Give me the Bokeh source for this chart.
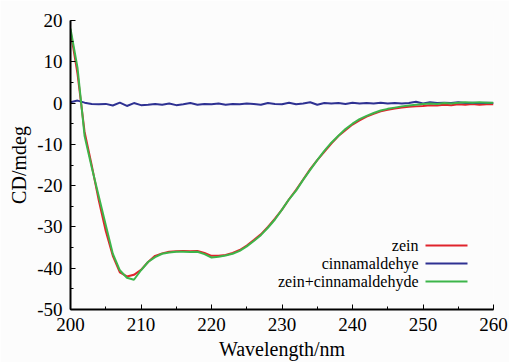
from bokeh.plotting import figure
from bokeh.models import Range1d, Label, BoxAnnotation, SingleIntervalTicker, PrintfTickFormatter
from bokeh.embed import file_html
from bokeh.resources import INLINE

wavelength = list(range(200, 261))

zein = [17.5, 7.0, -7.0, -15.0, -23.5, -31.0, -37.0, -41.0, -42.0, -41.6,
        -40.4, -38.5, -37.0, -36.4, -36.0, -35.9, -35.8, -35.9, -35.8, -36.3,
        -37.0, -37.0, -36.8, -36.3, -35.6, -34.5, -33.2, -31.8, -30.0, -28.0,
        -25.8, -23.3, -21.0, -18.5, -16.0, -13.8, -11.8, -9.8, -8.0, -6.6,
        -5.2, -4.2, -3.3, -2.6, -2.0, -1.6, -1.3, -1.1, -0.9, -0.8,
        -0.7, -0.5, -0.6, -0.4, -0.5, -0.3, -0.4, -0.2, -0.4, -0.3, -0.3]

cinnamaldehye = [0.2, 0.6, 0.1, -0.2, -0.3, -0.2, -0.6, 0.1, -0.7, 0.0,
                 -0.5, -0.4, -0.2, -0.4, -0.1, -0.5, -0.3, 0.0, -0.4, -0.2,
                 -0.3, -0.1, -0.4, -0.2, -0.3, -0.1, -0.2, -0.4, 0.0, -0.2,
                 -0.3, 0.1, -0.3, -0.1, 0.2, -0.4, 0.0, -0.1, 0.0, -0.2,
                 0.1, -0.1, 0.0, -0.1, 0.1, -0.1, 0.0, -0.1, 0.0, 0.3,
                 -0.1, 0.2, 0.0, 0.1, 0.0, 0.2, 0.0, 0.1, 0.0, 0.1, 0.0]

zein_cinnamaldehyde = [18.0, 8.5, -8.0, -15.5, -22.5, -29.5, -36.5, -40.5, -42.3, -42.8,
                       -40.5, -38.5, -37.3, -36.5, -36.2, -36.0, -36.0, -36.1, -36.0, -36.6,
                       -37.4, -37.2, -36.9, -36.5, -35.8, -34.7, -33.4, -32.0, -30.2, -28.2,
                       -25.8, -23.3, -21.2, -18.6, -16.2, -13.8, -11.6, -9.6, -7.9, -6.3,
                       -5.0, -3.9, -3.1, -2.4, -1.8, -1.4, -1.1, -0.8, -0.6, -0.4,
                       -0.2, -0.1, -0.2, 0.0, -0.1, 0.1, 0.2, 0.1, 0.2, 0.1, 0.1]

series_names = ["zein", "cinnamaldehye", "zein+cinnamaldehyde"]
series_colors = ["#e0242c", "#2e3192", "#3db54a"]
series_values = [zein, cinnamaldehye, zein_cinnamaldehyde]

FONT = "Liberation Serif"

p = figure(width=509, height=362, output_backend="svg", toolbar_location=None,
           x_range=Range1d(200, 260), y_range=Range1d(-50, 20),
           min_border_left=70, min_border_right=16, min_border_top=20,
           min_border_bottom=50)
p.background_fill_color = "#fcfcfc"
p.border_fill_color = "#fcfcfc"
p.outline_line_color = None
p.xgrid.visible = False
p.ygrid.visible = False

for vals, col in zip(series_values, series_colors):
    p.line(wavelength, vals, line_color=col, line_width=2)

p.xaxis.ticker = SingleIntervalTicker(interval=10, num_minor_ticks=2)
p.yaxis.ticker = SingleIntervalTicker(interval=10, num_minor_ticks=2)
p.xaxis.formatter = PrintfTickFormatter(format="%d")
p.yaxis.formatter = PrintfTickFormatter(format="%d")
for ax in (p.xaxis[0], p.yaxis[0]):
    ax.axis_line_color = "black"
    ax.axis_line_width = 2
    ax.major_tick_in = 5
    ax.major_tick_out = 0
    ax.minor_tick_in = 3
    ax.minor_tick_out = 0
    ax.major_tick_line_color = "black"
    ax.minor_tick_line_color = "black"
    ax.major_label_text_font = FONT
    ax.major_label_text_font_size = "19px"
    ax.major_label_text_color = "black"
    ax.axis_label_text_font = FONT
    ax.axis_label_text_font_size = "20px"
    ax.axis_label_text_font_style = "normal"
    ax.axis_label_text_color = "black"

p.xaxis.axis_label = "Wavelength/nm"
p.yaxis.axis_label = "CD/mdeg"
p.xaxis.major_label_standoff = 8
p.yaxis.major_label_standoff = 8
p.xaxis.axis_label_standoff = 4
p.yaxis.axis_label_standoff = 4

# legend drawn with annotations positioned in frame-relative screen units
# (labels right-aligned, line samples to their right)
row_y = [64, 46, 28]
for name, col, ry in zip(series_names, series_colors, row_y):
    p.add_layout(Label(x=348, y=ry, x_units="screen", y_units="screen",
                       text=name, text_align="right", text_baseline="middle",
                       text_font=FONT, text_font_size="16px", text_color="black"))
    p.add_layout(BoxAnnotation(left=355, right=397, top=ry + 1, bottom=ry - 1,
                               left_units="screen", right_units="screen",
                               top_units="screen", bottom_units="screen",
                               fill_color=col, fill_alpha=1, line_alpha=0))

open("out.html", "w").write(file_html(p, INLINE))
